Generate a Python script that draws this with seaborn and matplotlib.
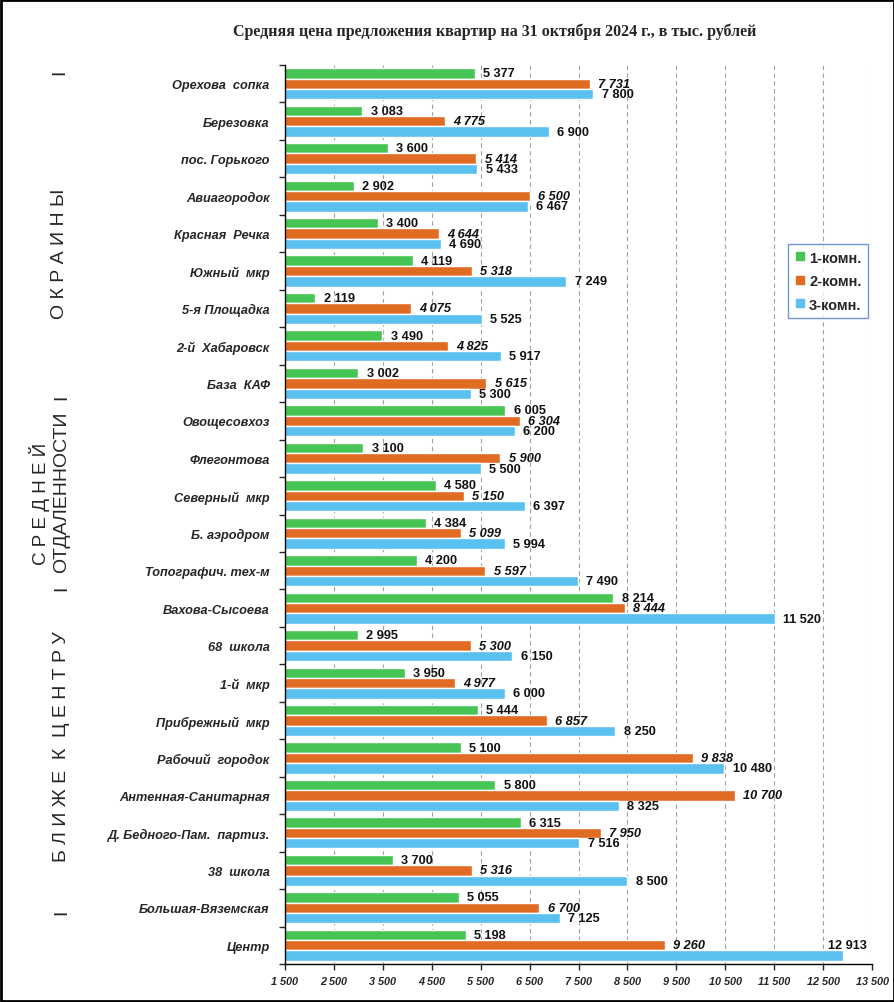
import matplotlib.pyplot as plt
import numpy as np
import pandas as pd
import seaborn as sns
from matplotlib.lines import Line2D
from matplotlib.patches import Rectangle

# данные
districts = ["Орехова  сопка", "Березовка", "пос. Горького", "Авиагородок", "Красная  Речка",
             "Южный  мкр", "5-я Площадка", "2-й  Хабаровск", "База  КАФ", "Овощесовхоз",
             "Флегонтова", "Северный  мкр", "Б. аэродром", "Топографич. тех-м", "Вахова-Сысоева",
             "68  школа", "1-й  мкр", "Прибрежный  мкр", "Рабочий  городок", "Антенная-Санитарная",
             "Д. Бедного-Пам.  партиз.", "38  школа", "Большая-Вяземская", "Центр"]
room1 = [5377, 3083, 3600, 2902, 3400, 4119, 2119, 3490, 3002, 6005, 3100, 4580,
         4384, 4200, 8214, 2995, 3950, 5444, 5100, 5800, 6315, 3700, 5055, 5198]
room2 = [7731, 4775, 5414, 6500, 4644, 5318, 4075, 4825, 5615, 6304, 5900, 5150,
         5099, 5597, 8444, 5300, 4977, 6857, 9838, 10700, 7950, 5316, 6700, 9260]
room3 = [7800, 6900, 5433, 6467, 4690, 7249, 5525, 5917, 5300, 6200, 5500, 6397,
         5994, 7490, 11520, 6150, 6000, 8250, 10480, 8325, 7516, 8500, 7125, 12913]
series = ["1-комн.", "2-комн.", "3-комн."]
x_ticks = list(range(1500, 13501, 1000))

colors = ["#46C555", "#E06C24", "#59C0F0"]

df = pd.DataFrame({"Район": districts * 3,
                   "Тип": [s for s in series for _ in districts],
                   "Цена": room1 + room2 + room3})

sns.set_style("white")
plt.rcParams["font.family"] = ["Liberation Sans", "DejaVu Sans"]

fig = plt.figure(figsize=(8.95, 10.03), dpi=100)
ax = fig.add_axes([285 / 895, 1 - 965 / 1003, 587 / 895, 899 / 1003])

sns.barplot(data=df, y="Район", x="Цена", hue="Тип", order=districts, hue_order=series,
            palette=colors, width=0.83, orient="h", ax=ax, saturation=1, legend=False)

ax.set_xlim(1500, 13500)
ax.set_ylim(len(districts) - 0.5, -0.5)
ax.set_xticks(x_ticks)
ax.set_xticklabels([f"{t:,}".replace(",", " ") for t in x_ticks],
                   fontsize=7.8, fontweight="bold", fontstyle="italic")
ax.set_yticks(range(len(districts)))
ax.set_yticklabels(districts, fontsize=9.2, fontweight="bold", fontstyle="italic")
ax.set_yticks(np.arange(-0.5, len(districts), 1), minor=True)
ax.tick_params(axis="y", which="major", length=0, pad=11)
ax.tick_params(axis="y", which="minor", length=4, width=1, direction="out", left=True)
ax.tick_params(axis="x", length=4, width=1, direction="out", bottom=True, pad=5)
ax.set_xlabel("")
ax.set_ylabel("")

for s in ["top", "right"]:
    ax.spines[s].set_visible(False)
for s in ["left", "bottom"]:
    ax.spines[s].set_color("black")
    ax.spines[s].set_linewidth(1)

ax.grid(False)
for t in x_ticks[1:]:
    ax.axvline(t, color="#a0a0a0", lw=0.8, ls=(0, (4, 3)), zorder=0)

fmt = lambda v: f"{v:,.0f}".replace(",", " ")
for i, cont in enumerate(ax.containers):
    anns = ax.bar_label(cont, fmt=fmt, padding=6, fontsize=9.2, fontweight="bold",
                        fontstyle="italic" if i == 1 else "normal", color="#111111")
    for bar, ann in zip(cont, anns):
        if bar.get_width() > 12500:
            yc = bar.get_y() + bar.get_height() / 2 - bar.get_height()
            ann.xy = (13500, yc)
            ann.xyann = (-4, 0)
            ann.set_horizontalalignment("right")

handles = [Line2D([], [], marker="s", ls="", color=c, markersize=6) for c in colors]
leg = fig.legend(handles, series, loc="upper left", bbox_to_anchor=(788 / 895, 1 - 245 / 1003),
                 frameon=True, fancybox=False, handletextpad=0.2, labelspacing=0.65,
                 borderpad=0.45, borderaxespad=0, handlelength=0.8,
                 prop={"weight": "bold", "size": 10.5})
leg.get_frame().set_edgecolor("#4a7ec8")
leg.get_frame().set_linewidth(1)

fig.text(495 / 895, 1 - 32 / 1003,
         "Средняя цена предложения квартир на 31 октября 2024 г., в тыс. рублей",
         ha="center", va="center", fontsize=11.5, fontweight="bold", family="Liberation Serif")

# подписи групп слева
def side(x, y, s, size=14):
    fig.text(x / 895, 1 - y / 1003, s, rotation=90, ha="center", va="center", fontsize=size)

side(60, 72, "I")
side(60, 254, "О К Р А И Н Ы")
side(62, 397, "I")
side(39, 504, "С Р Е Д Н Е Й", 13.5)
side(62, 492, "ОТДАЛЕННОСТИ")
side(62, 588, "I")
side(62, 747, "Б Л И Ж Е  К  Ц Е Н Т Р У")
side(62, 912, "I")

fig.patches.append(Rectangle((0.001, 0.001), 0.998, 0.998, transform=fig.transFigure,
                             fill=False, edgecolor="black", lw=2))

fig.savefig("out.png", dpi=100)
